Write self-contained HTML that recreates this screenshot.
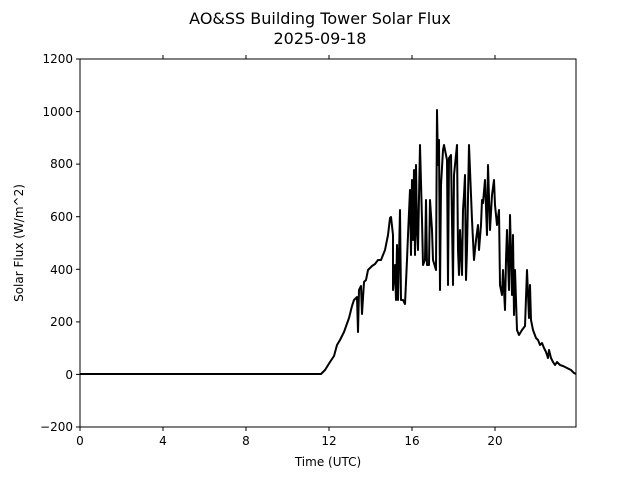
<!DOCTYPE html>
<html><head><meta charset="utf-8"><style>body{margin:0;background:#fff}svg{display:block}text{font-family:"DejaVu Sans","Liberation Sans",sans-serif;fill:#000}</style></head><body>
<svg width="640" height="480" viewBox="0 0 640 480">
<text x="320" y="24" font-size="16" text-anchor="middle">AO&amp;SS Building Tower Solar Flux</text>
<text x="320" y="44" font-size="16" text-anchor="middle">2025-09-18</text>
<g stroke="#000" stroke-width="1">
<line x1="80" y1="427" x2="80" y2="431"/><line x1="163" y1="427" x2="163" y2="431"/><line x1="246" y1="427" x2="246" y2="431"/><line x1="329" y1="427" x2="329" y2="431"/><line x1="412" y1="427" x2="412" y2="431"/><line x1="495" y1="427" x2="495" y2="431"/>
<line x1="163" y1="59" x2="163" y2="55"/><line x1="246" y1="59" x2="246" y2="55"/><line x1="329" y1="59" x2="329" y2="55"/><line x1="412" y1="59" x2="412" y2="55"/><line x1="495" y1="59" x2="495" y2="55"/>
<line x1="76" y1="427" x2="80" y2="427"/><line x1="76" y1="374.4" x2="80" y2="374.4"/><line x1="76" y1="321.9" x2="80" y2="321.9"/><line x1="76" y1="269.3" x2="80" y2="269.3"/><line x1="76" y1="216.7" x2="80" y2="216.7"/><line x1="76" y1="164.1" x2="80" y2="164.1"/><line x1="76" y1="111.6" x2="80" y2="111.6"/><line x1="76" y1="59" x2="80" y2="59"/>
</g>
<g font-size="12" text-anchor="middle">
<text x="80" y="445">0</text><text x="163" y="445">4</text><text x="246" y="445">8</text><text x="329" y="445">12</text><text x="412" y="445">16</text><text x="495" y="445">20</text>
</g>
<g font-size="12" text-anchor="end">
<text x="73" y="431">−200</text><text x="73" y="379">0</text><text x="73" y="326">200</text><text x="73" y="274">400</text><text x="73" y="221">600</text><text x="73" y="168">800</text><text x="73" y="116">1000</text><text x="73" y="63">1200</text>
</g>
<text x="328" y="466" font-size="12" text-anchor="middle">Time (UTC)</text>
<text transform="translate(23,243) rotate(-90)" font-size="12" text-anchor="middle">Solar Flux (W/m^2)</text>
<polyline fill="none" stroke="#000" stroke-width="2" stroke-linejoin="round" points="80,374 321,374 325,370 330,362 334,356 337,345 340,340 344,332 349,318 352,306 354,300 357,297 358,332 359,290 361,286 362,314 364,282 366,280 368,270 370,268 372,266 375,264 378,260 381,260 385,250 388,235 390,218 391,217 393,235 393,290 395,265 396,300 397,245 398,300 400,210 401,300 403,300 405,304 407,260 408,235 410,190 411,255 412,180 413,240 414,170 415,255 416,165 417,230 418,250 420,145 422,220 423,265 425,260 426,200 427,265 429,265 430,200 432,230 433,260 436,270 437,110 438,165 439,140 440,290 441,185 443,150 444,145 445,150 447,160 448,285 449,158 451,155 453,285 454,175 456,155 457,145 458,250 459,275 460,230 462,275 463,210 464,195 465,175 466,280 467,250 469,145 472,220 474,260 476,240 478,225 479,250 481,225 482,200 483,203 485,180 487,235 488,165 490,230 492,195 494,180 495,205 497,225 499,210 500,285 502,295 503,270 505,310 506,260 507,230 509,290 510,215 512,295 513,235 514,315 515,270 517,330 519,335 522,330 525,326 527,270 529,318 530,285 531,320 533,330 536,338 538,340 540,345 542,343 544,348 546,352 548,358 549,350 551,358 553,362 555,365 557,362 560,365 563,366 567,368 571,370 574,373 576,374"/>
<rect x="80" y="59" width="496" height="368" fill="none" stroke="#000" stroke-width="1"/>
</svg>
</body></html>
